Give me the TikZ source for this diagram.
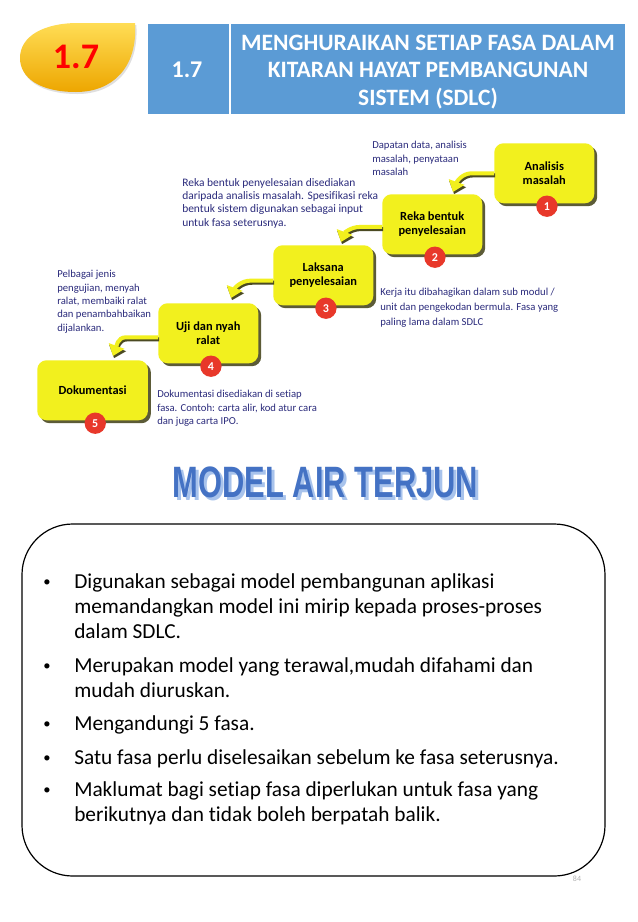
\documentclass[tikz,border=0pt]{standalone}
\usepackage{fontspec}
\usepackage{graphicx}
\setmainfont{Carlito}[Ligatures=NoCommon]
\newfontfamily\headfont{Liberation Sans}
\usetikzlibrary{arrows.meta,shadows,positioning}

\definecolor{badgetop}{HTML}{FFDD55}
\definecolor{badgebottom}{HTML}{EDA600}
\definecolor{headerblue}{HTML}{5B9BD5}
\definecolor{stepyellow}{HTML}{F2F01E}
\definecolor{stepshadow}{HTML}{4B4A22}
\definecolor{badgered}{HTML}{E8382A}
\definecolor{notenavy}{HTML}{2B2B7C}
\definecolor{titleblue}{HTML}{4472C4}
\definecolor{titleshade}{HTML}{A8C3EC}

\newcommand{\headword}{\resizebox{229pt}{23pt}{\headfont\bfseries MODEL AIR TERJUN}}

\tikzset{
  phase/.style={fill=stepyellow, rounded corners=7pt, anchor=north west, align=center,
    minimum width=75pt, minimum height=45pt, inner sep=2pt,
    font=\bfseries\fontsize{9.3}{11}\selectfont,
    drop shadow={shadow xshift=2.2pt, shadow yshift=-2.2pt, fill=stepshadow, opacity=0.9}},
  phasenum/.style={circle, fill=badgered, text=white, inner sep=0pt, minimum size=16pt,
    font=\bfseries\fontsize{9}{9}\selectfont},
  note/.style={anchor=north west, align=left, inner sep=0pt, text=notenavy,
    font=\fontsize{8}{10}\selectfont},
  flow/.style={line width=3pt, draw=stepyellow, -{Triangle[width=12pt,length=8pt]}},
  flowshade/.style={line width=3pt, draw=stepshadow, -{Triangle[width=13pt,length=8pt]},
    transform canvas={xshift=0.8pt, yshift=-1.6pt}},
  dot/.style={inner sep=0pt, font=\fontsize{11}{11}\selectfont},
  point/.style={anchor=north west, align=left, inner sep=0pt, font=\fontsize{16}{18.75}\selectfont}
}

\begin{document}
\begin{tikzpicture}[x=0.75pt,y=-0.75pt]
  \useasboundingbox (0,0) rectangle (638,922);
  \fill[white] (0,0) rectangle (638,922);

  % badge and header
  \shade[top color=badgetop, bottom color=badgebottom, drop shadow={shadow xshift=1pt, shadow yshift=-1.5pt, opacity=0.25}]
    (135,23) .. controls (138,68) and (112,92) .. (76,92)
    .. controls (40,92) and (20,78) .. (20,58)
    .. controls (20,36) and (44,23) .. (78,23) -- cycle;
  \node[text=red, font=\bfseries\fontsize{27}{27}\selectfont] (badge) at (76,57) {1.7};
  \fill[headerblue] (148,24) rectangle (625,114);
  \draw[white, line width=1.2pt] (230,24) -- (230,114);
  \node[text=white, font=\bfseries\fontsize{18}{18}\selectfont] (secno) at (187,70) {1.7};
  \node[text=white, align=center, font=\bfseries\fontsize{17.6}{20.6}\selectfont] (sectitle) at (428,72)
    {MENGHURAIKAN SETIAP FASA DALAM\\KITARAN HAYAT PEMBANGUNAN\\SISTEM (SDLC)};

  % waterfall steps
  \node[phase] (b1) at (494,143) {Analisis\\masalah};
  \node[phase] (b2) at (382,194) {Reka bentuk\\penyelesaian};
  \node[phase] (b3) at (273,245) {Laksana\\penyelesaian};
  \node[phase] (b4) at (158,303) {Uji dan nyah\\ralat};
  \node[phase, minimum width=83pt] (b5) at (37,360) {Dokumentasi};

  \foreach \b in {1,...,5}
    \node[phasenum] (n\b) at ([xshift=2pt,yshift=-2pt]b\b.south) {\b};

  \coordinate (t1) at (453,192);
  \coordinate (t2) at (341,242);
  \coordinate (t3) at (231,298);
  \coordinate (t4) at (113,356);
  \draw[flowshade] (b1.west) -- ++(-22,0) to[out=180,in=70] (t1);
  \draw[flow] (b1.west) -- ++(-22,0) to[out=180,in=70] (t1);
  \draw[flowshade] ([yshift=-2pt]b2.west) -- ++(-22,0) to[out=180,in=70] (t2);
  \draw[flow] ([yshift=-2pt]b2.west) -- ++(-22,0) to[out=180,in=70] (t2);
  \draw[flowshade] ([yshift=-4pt]b3.west) -- ++(-22,0) to[out=180,in=70] (t3);
  \draw[flow] ([yshift=-4pt]b3.west) -- ++(-22,0) to[out=180,in=70] (t3);
  \draw[flowshade] ([yshift=-3pt]b4.west) -- ++(-32,0) to[out=180,in=70] (t4);
  \draw[flow] ([yshift=-3pt]b4.west) -- ++(-32,0) to[out=180,in=70] (t4);

  \node[note] (m1) at (372,141) {Dapatan data, analisis\\masalah, penyataan\\masalah};
  \node[note, font=\fontsize{8.6}{10}\selectfont] (m2) at (182,178) {Reka bentuk penyelesaian disediakan\\daripada analisis masalah. Spesifikasi reka\\bentuk sistem digunakan sebagai input\\untuk fasa seterusnya.};
  \node[note, font=\fontsize{8}{11}\selectfont] (m3) at (380,288) {Kerja itu dibahagikan dalam sub modul /\\unit dan pengekodan bermula. Fasa yang\\paling lama dalam SDLC};
  \node[note] (m4) at (57,270) {Pelbagai jenis\\pengujian, menyah\\ralat, membaiki ralat\\dan penambahbaikan\\dijalankan.};
  \node[note] (m5) at (157,390) {Dokumentasi disediakan di setiap\\fasa. Contoh: carta alir, kod atur cara\\dan juga carta IPO.};

  % heading
  \node[inner sep=0pt] (head) at (325.5,484)
    {\makebox[0pt][l]{\hspace{2pt}\raisebox{-2pt}{\textcolor{titleshade}{\headword}}}\textcolor{titleblue}{\headword}};

  % summary box
  \draw[rounded corners=38pt, line width=0.9pt] (22,524) rectangle (605,876);
  \node[dot] (d1) at (47,583) {\textbullet};
  \node[dot] (d2) at (47,667) {\textbullet};
  \node[dot] (d3) at (47,725) {\textbullet};
  \node[dot] (d4) at (47,759) {\textbullet};
  \node[dot] (d5) at (47,791) {\textbullet};
  \node[point] (p1) at (74,573.5) {Digunakan sebagai model pembangunan aplikasi\\memandangkan model ini mirip kepada proses-proses\\dalam SDLC.};
  \node[point] (p2) at (74,657.5) {Merupakan model yang terawal,mudah difahami dan\\mudah diuruskan.};
  \node[point] (p3) at (74,715.5) {Mengandungi 5 fasa.};
  \node[point] (p4) at (74,749.5) {Satu fasa perlu diselesaikan sebelum ke fasa seterusnya.};
  \node[point] (p5) at (74,781.5) {Maklumat bagi setiap fasa diperlukan untuk fasa yang\\berikutnya dan tidak boleh berpatah balik.};
  \node[text=gray!60, font=\fontsize{6}{6}\selectfont] (pageno) at (577,879) {84};
\end{tikzpicture}
\end{document}
